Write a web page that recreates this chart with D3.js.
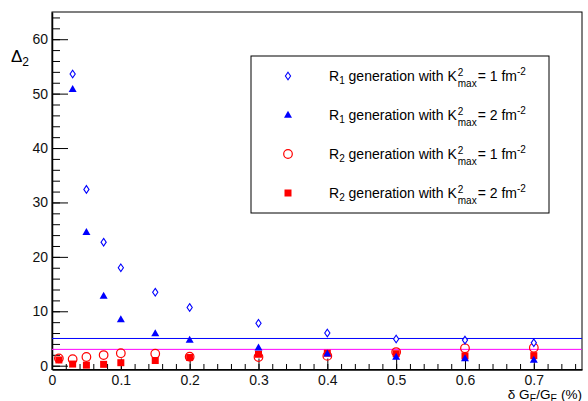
<!DOCTYPE html>
<html>
<head>
<meta charset="utf-8">
<script src="https://cdn.jsdelivr.net/npm/d3@7"></script>
<style>
  body { margin: 0; background: #fff; }
  svg { font-family: "Liberation Sans", Arial, sans-serif; }
</style>
</head>
<body>
<svg id="chart" width="588" height="401"></svg>
<script>
//chart values
const xVals = [0.01, 0.03, 0.05, 0.075, 0.1, 0.15, 0.2, 0.3, 0.4, 0.5, 0.6, 0.7];
const r1k1 = [null, 53.6, 32.4, 22.7, 18.0, 13.5, 10.7, 7.8, 6.0, 4.9, 4.7, 4.2];
const r1k2 = [null, 50.8, 24.5, 12.8, 8.5, 5.9, 4.7, 3.3, 2.2, 1.6, 1.3, 1.05];
const r2k1 = [1.35, 1.2, 1.6, 1.95, 2.3, 2.2, 1.65, 1.6, 1.8, 2.5, 3.2, 3.3];
const r2k2 = [1.05, 0.3, 0.1, 0.25, 0.55, 0.95, 1.5, 2.1, 2.3, 2.2, 1.8, 1.85];
const refLines = [5, 3];
const xTicks = [0, 0.1, 0.2, 0.3, 0.4, 0.5, 0.6, 0.7];
const yTicks = [0, 10, 20, 30, 40, 50, 60];
const legendK = ["1", "2", "1", "2"];
const legendR = ["1", "1", "2", "2"];

const svg = d3.select("#chart");

//scales
const x = d3.scaleLinear().domain([0, 0.77]).range([52, 582]);
const y = d3.scaleLinear().domain([-0.7, 65]).range([369.5, 12]);

//frame
svg.append("rect")
  .attr("x", 52).attr("y", 12)
  .attr("width", 530).attr("height", 357.5)
  .attr("fill", "none").attr("stroke", "#000").attr("stroke-width", 1);

//minor ticks
const xMinor = d3.range(0, 0.771, 0.02).map(d => +d.toFixed(2));
const yMinor = d3.range(0, 65, 2);

svg.append("g")
  .attr("transform", "translate(0,369.5)")
  .call(d3.axisBottom(x).tickValues(xMinor).tickSizeInner(-5.5).tickSizeOuter(0).tickFormat(""))
  .call(g => g.select(".domain").remove());

svg.append("g")
  .attr("transform", "translate(52,0)")
  .call(d3.axisLeft(y).tickValues(yMinor).tickSizeInner(-8).tickSizeOuter(0).tickFormat(""))
  .call(g => g.select(".domain").remove());

//major axes
const xAxis = svg.append("g")
  .attr("transform", "translate(0,369.5)")
  .call(d3.axisBottom(x).tickValues(xTicks).tickSizeInner(-11).tickSizeOuter(0).tickPadding(6).tickFormat(d => d === 0 ? "0" : d3.format(".1f")(d)));
xAxis.select(".domain").attr("stroke-width", 1.5);
xAxis.selectAll("text").style("font-size", "14px").attr("fill", "#111");

const yAxis = svg.append("g")
  .attr("transform", "translate(52,0)")
  .call(d3.axisLeft(y).tickValues(yTicks).tickSizeInner(-16).tickSizeOuter(0).tickPadding(4));
yAxis.select(".domain").attr("stroke-width", 1.5);
yAxis.selectAll("text").style("font-size", "14px").attr("fill", "#111");

//axis titles
const yt = svg.append("text").attr("x", 11).attr("y", 62).style("font-size", "17px");
yt.append("tspan").text("\u0394");
yt.append("tspan").attr("dy", 4).style("font-size", "12px").text("2");

const xt = svg.append("text").attr("x", 582).attr("y", 399).attr("text-anchor", "end").style("font-size", "13.5px");
xt.append("tspan").text("\u03b4 G");
xt.append("tspan").attr("dy", 3).style("font-size", "10px").text("E");
xt.append("tspan").attr("dy", -3).text("/G");
xt.append("tspan").attr("dy", 3).style("font-size", "10px").text("E");
xt.append("tspan").attr("dy", -3).text(" (%)");

//reference lines
svg.selectAll(".ref")
  .data(refLines)
  .join("line")
  .attr("x1", x(0)).attr("x2", x(0.77))
  .attr("y1", d => y(d)).attr("y2", d => y(d))
  .attr("stroke", (d, i) => i === 0 ? "#0000ff" : "#ff00ff")
  .attr("stroke-width", 1);

//marker shapes
const diamond = "M0,-3.8L2.6,0L0,3.8L-2.6,0Z";
const triangle = "M0,-4.3L4,2.7L-4,2.7Z";

const pts = arr => xVals.map((d, i) => [d, arr[i]]).filter(p => p[1] !== null);

svg.append("g").selectAll("circle")
  .data(pts(r2k1))
  .join("circle")
  .attr("cx", d => x(d[0])).attr("cy", d => y(d[1]))
  .attr("r", 4.3)
  .attr("fill", "none").attr("stroke", "#ff0000").attr("stroke-width", 1.2);

svg.append("g").selectAll("rect")
  .data(pts(r2k2))
  .join("rect")
  .attr("x", d => x(d[0]) - 3.5).attr("y", d => y(d[1]) - 3.5)
  .attr("width", 7).attr("height", 7)
  .attr("fill", "#ff0000");

svg.append("g").selectAll("path")
  .data(pts(r1k2))
  .join("path")
  .attr("transform", d => `translate(${x(d[0])},${y(d[1])})`)
  .attr("d", triangle)
  .attr("fill", "#0000ff");

svg.append("g").selectAll("path")
  .data(pts(r1k1))
  .join("path")
  .attr("transform", d => `translate(${x(d[0])},${y(d[1])})`)
  .attr("d", diamond)
  .attr("fill", "#fff").attr("stroke", "#0000ff").attr("stroke-width", 1.1);

//legend
const legend = svg.append("g");
legend.append("rect")
  .attr("x", 251).attr("y", 56)
  .attr("width", 298).attr("height", 157)
  .attr("fill", "#fff").attr("stroke", "#000").attr("stroke-width", 1);

const rowY = [76, 115, 154, 193];
rowY.forEach((ry, i) => {
  const g = legend.append("g").attr("transform", `translate(0,${ry})`);
  //marker
  if (i === 0) {
    g.append("path").attr("transform", "translate(288,0)").attr("d", diamond)
      .attr("fill", "#fff").attr("stroke", "#0000ff").attr("stroke-width", 1.1);
  } else if (i === 1) {
    g.append("path").attr("transform", "translate(288,0)").attr("d", triangle).attr("fill", "#0000ff");
  } else if (i === 2) {
    g.append("circle").attr("cx", 288).attr("cy", 0).attr("r", 4.3)
      .attr("fill", "none").attr("stroke", "#ff0000").attr("stroke-width", 1.2);
  } else {
    g.append("rect").attr("x", 284.5).attr("y", -3.5).attr("width", 7).attr("height", 7).attr("fill", "#ff0000");
  }
  //label
  const t1 = g.append("text").attr("x", 329).attr("y", 5).style("font-size", "14px");
  t1.append("tspan").text("R");
  t1.append("tspan").attr("dy", 3).style("font-size", "10px").text(legendR[i]);
  t1.append("tspan").attr("dy", -3).text(" generation with K");
  const w = t1.node().getComputedTextLength();
  g.append("text").attr("x", 329 + w + 1).attr("y", 0).style("font-size", "10px").text("2");
  const sub = g.append("text").attr("x", 329 + w + 1).attr("y", 11).style("font-size", "10px").text("max");
  const w2 = sub.node().getComputedTextLength();
  const t2 = g.append("text").attr("x", 329 + w + w2 + 2).attr("y", 5).style("font-size", "14px");
  t2.append("tspan").text(" = " + legendK[i] + " fm");
  t2.append("tspan").attr("dy", -6).style("font-size", "10px").text("-2");
});
</script>
</body>
</html>
